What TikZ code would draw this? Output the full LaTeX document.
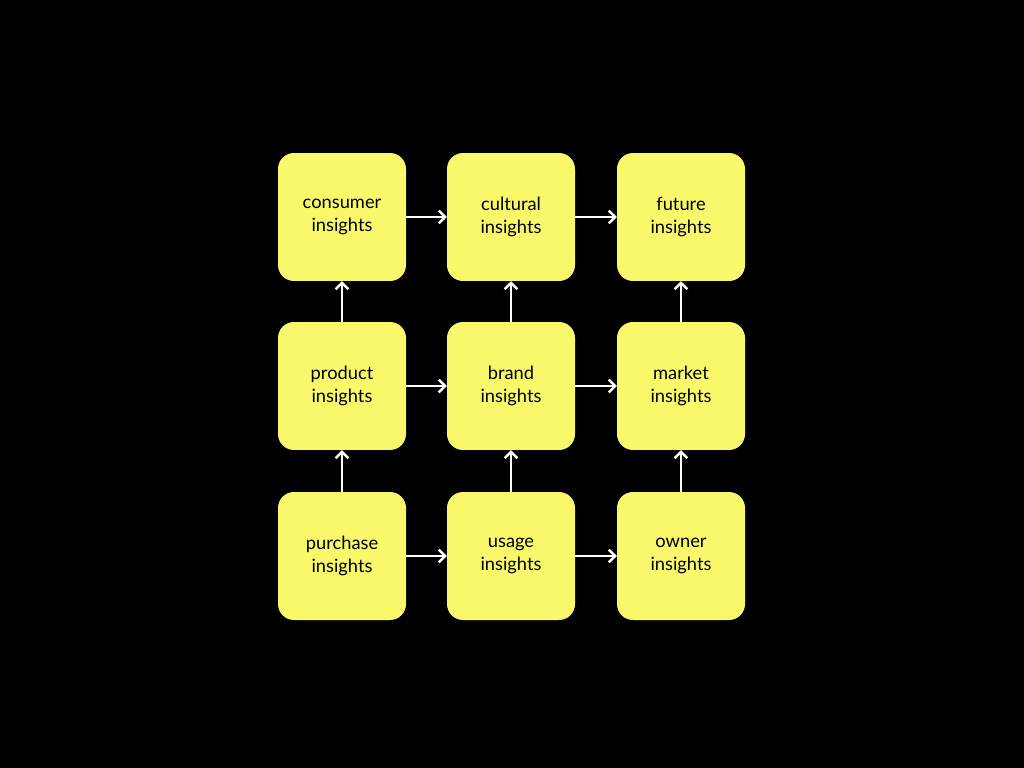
\documentclass[tikz,border=0pt]{standalone}
\usepackage{fontspec}
\usetikzlibrary{arrows.meta}
\setmainfont{Lato}
\definecolor{boxyellow}{HTML}{F8F86A}
\begin{document}
\begin{tikzpicture}[x=0.05cm, y=-0.05cm,
        every node/.style={rectangle, rounded corners=0.8cm, fill=boxyellow, minimum size=6.4cm,
            align=center, font=\fontsize{26}{33}\selectfont},
        link/.style={draw=white, line width=3.6pt, -{Straight Barb[length=9pt, width=18pt]}}]
            \fill[black] (0, 0) rectangle (1024, 768);

            \node (consumer) at (342, 217) {consumer\\insights};
            \node (cultural) at (511, 217) {cultural\\insights};
            \node (future) at (681, 217) {future\\insights};
            \node (product) at (342, 386) {product\\insights};
            \node (brand) at (511, 386) {brand\\insights};
            \node (market) at (681, 386) {market\\insights};
            \node (purchase) at (342, 556) {purchase\\insights};
            \node (usage) at (511, 556) {usage\\insights};
            \node (owner) at (681, 556) {owner\\insights};

            \draw[link] (consumer) -- (cultural);
            \draw[link] (cultural) -- (future);
            \draw[link] (product) -- (brand);
            \draw[link] (brand) -- (market);
            \draw[link] (purchase) -- (usage);
            \draw[link] (usage) -- (owner);

            \draw[link] (purchase) -- (product);
            \draw[link] (product) -- (consumer);
            \draw[link] (usage) -- (brand);
            \draw[link] (brand) -- (cultural);
            \draw[link] (owner) -- (market);
            \draw[link] (market) -- (future);
        \end{tikzpicture}
\end{document}
